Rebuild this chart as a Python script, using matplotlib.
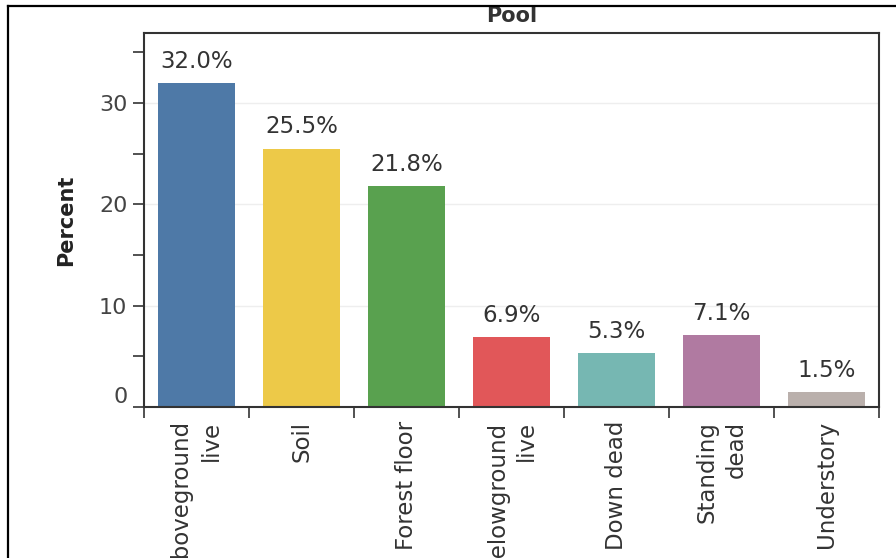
import matplotlib
matplotlib.use('Agg')
import matplotlib.pyplot as plt
from matplotlib.lines import Line2D
import numpy as np

# 数据
pools = ['Aboveground\nlive', 'Soil', 'Forest floor', 'Belowground\nlive',
         'Down dead', 'Standing\ndead', 'Understory']
percent = [32.0, 25.5, 21.8, 6.9, 5.3, 7.1, 1.5]
colors = ['#4e79a7', '#edc948', '#59a14f', '#e15759', '#76b7b2', '#b07aa1', '#bab0ac']

plt.rcParams['font.family'] = ['DejaVu Sans']

fig = plt.figure(figsize=(8.96, 5.58), dpi=100)
ax = fig.add_axes([144 / 896, 1 - 407 / 558, 735 / 896, 374 / 558])

x = np.arange(len(pools))
bars = ax.bar(x, percent, width=0.74, color=colors, zorder=2)

# 数值标注
for xi, v in zip(x, percent):
    ax.text(xi, v + 1.0, f'{v:.1f}%', ha='center', va='bottom',
            fontsize=16.5, color='#333333')

ax.set_xlim(-0.5, len(pools) - 0.5)
ax.set_ylim(0, 36.9)

# y 轴刻度
ax.set_yticks([0, 10, 20, 30])
ax.set_yticks([5, 15, 25, 35], minor=True)
ax.tick_params(axis='y', which='both', length=8, width=1.2, color='#333333',
               labelsize=16, labelcolor='#444444', pad=4)
ax.grid(axis='y', which='major', color='#eeeeee', linewidth=1, zorder=0)

# x 轴刻度：类别边界画刻度线，中心放标签
ax.set_xticks(x)
ax.set_xticklabels(pools, rotation=90, multialignment='right', linespacing=1.35)
ax.set_xticks(np.arange(-0.5, len(pools)), minor=True)
ax.tick_params(axis='x', which='major', length=0, labelsize=16.5,
               labelcolor='#333333', pad=10)
ax.tick_params(axis='x', which='minor', length=8, width=1.2, color='#333333')

for s in ax.spines.values():
    s.set_color('#333333')
    s.set_linewidth(1.5)

ax.set_ylabel('Percent', fontsize=15, fontweight='bold', color='#222222')
ax.yaxis.set_label_coords(-0.092, 0.5)
ax.set_title('Pool', fontsize=15, fontweight='bold', color='#333333', pad=8)

# 0 标签稍微上移
ax.get_yticklabels()[0].set_va('bottom')

# 外框
fig.add_artist(Line2D([8 / 896, 1], [1 - 6 / 558, 1 - 6 / 558],
                      transform=fig.transFigure, color='black', lw=1.6))
fig.add_artist(Line2D([8 / 896, 8 / 896], [0, 1 - 6 / 558],
                      transform=fig.transFigure, color='black', lw=1.6))

plt.savefig('out.png', dpi=100)
